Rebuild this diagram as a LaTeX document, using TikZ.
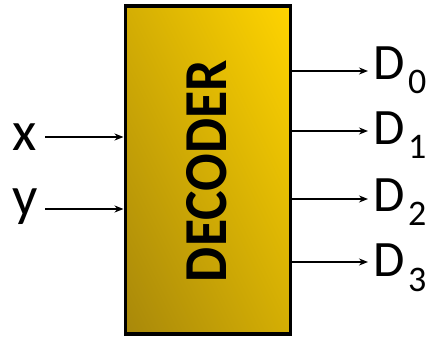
\documentclass[tikz,border=0pt]{standalone}
\usepackage{fontspec}
\setmainfont{Carlito}
\usetikzlibrary{arrows.meta,shadings}
\definecolor{golddark}{HTML}{A8880A}
\definecolor{goldmid}{HTML}{D4AE04}
\definecolor{goldlight}{HTML}{FFD400}
\newcommand{\dsub}[1]{\kern3.5pt\raisebox{-14pt}{\fontsize{36}{36}\selectfont #1}}
\tikzset{
  sig/.style={-{Stealth[length=9pt,width=7pt]}, line width=1.6pt},
  lbl/.style={inner sep=0pt, font=\fontsize{56}{56}\selectfont},
  outlbl/.style={inner sep=0pt, anchor=west, font=\fontsize{51}{51}\selectfont},
}
\begin{document}
\begin{tikzpicture}[x=1pt,y=-1pt]
\useasboundingbox (0,0) rectangle (434,339);
\shade[lower left=golddark, upper right=goldlight, lower right=goldmid, upper left=goldmid]
  (125.5,6) rectangle (290.5,334);
\draw[line width=3.5pt] (125.5,6) rectangle (290.5,334);
\node (dec) at (125.5,6) [anchor=north west, minimum width=165pt, minimum height=328pt, inner sep=0pt] {};
\node[rotate=90, inner sep=0pt] (title) at (207,171) {\resizebox{222pt}{40pt}{\bfseries DECODER}};
% inputs
\node[lbl, anchor=base] (x) at (25,151) {x};
\node[lbl, anchor=base] (y) at (25,216) {y};
\coordinate (xin) at (123.5,137);
\coordinate (yin) at (123.5,209);
\draw[sig] (45,137) coordinate (xs) -- (xin);
\draw[sig] (45,209) coordinate (ys) -- (yin);
% outputs
\node[outlbl, anchor=base west] (d0) at (373,80) {D\dsub{0}};
\node[outlbl, anchor=base west] (d1) at (373,145) {D\dsub{1}};
\node[outlbl, anchor=base west] (d2) at (373,212) {D\dsub{2}};
\node[outlbl, anchor=base west] (d3) at (373,277) {D\dsub{3}};
\coordinate (o0) at (292,71);
\coordinate (o1) at (292,131);
\coordinate (o2) at (292,199);
\coordinate (o3) at (292,262);
\draw[sig] (o0) -- (368,71);
\draw[sig] (o1) -- (368,131);
\draw[sig] (o2) -- (368,199);
\draw[sig] (o3) -- (368,262);
\end{tikzpicture}
\end{document}
